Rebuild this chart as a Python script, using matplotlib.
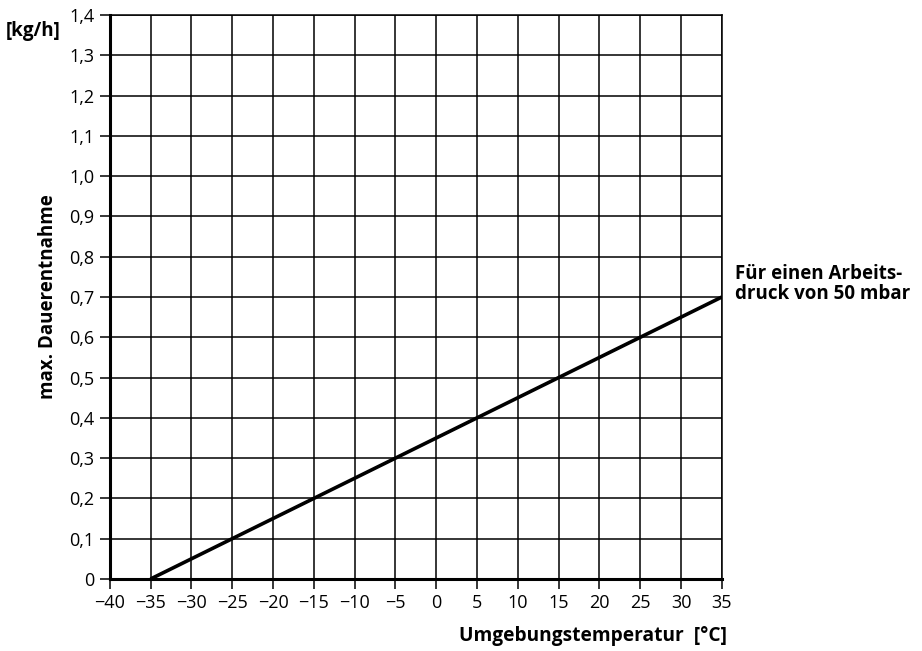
import matplotlib
matplotlib.use('Agg')
import matplotlib.pyplot as plt

plt.rcParams['font.family'] = ['Open Sans', 'DejaVu Sans']

# Kennlinie
temperatur = [-35, 35]
entnahme = [0.0, 0.7]

xticks = list(range(-40, 36, 5))
yticks = [i / 10 for i in range(0, 15)]
ylabels = [('%.1f' % v).replace('.', ',') if v > 0 else '0' for v in yticks]

fig = plt.figure(figsize=(9.22, 6.51), dpi=100)
ax = fig.add_axes([0.119, 0.1106, 0.664, 0.8664])

ax.plot(temperatur, entnahme, color='black', lw=2.6, solid_capstyle='butt', zorder=3)

ax.set_xlim(-40, 35)
ax.set_ylim(0, 1.4)
ax.set_xticks(xticks)
ax.set_yticks(yticks)
ax.set_yticklabels(ylabels)
ax.grid(True, color='black', lw=1.1)
ax.tick_params(direction='out', length=7, width=1.1, labelsize=13, colors='black', pad=4)

for side in ['top', 'right']:
    ax.spines[side].set_linewidth(1.1)
for side in ['left', 'bottom']:
    ax.spines[side].set_linewidth(2.2)

ax.set_ylabel('max. Dauerentnahme', fontsize=13.5, fontweight='bold', labelpad=8)
fig.text(0.788, 0.008, 'Umgebungstemperatur  [°C]', fontsize=13.8, fontweight='bold', ha='right', va='bottom')
fig.text(0.006, 0.953, '[kg/h]', fontsize=13.5, fontweight='bold', ha='left', va='center')
fig.text(0.797, 0.563, 'Für einen Arbeits-\ndruck von 50 mbar', fontsize=13.5, fontweight='bold',
         ha='left', va='center', linespacing=1.0)

fig.savefig('out.png', dpi=100, facecolor='white')
